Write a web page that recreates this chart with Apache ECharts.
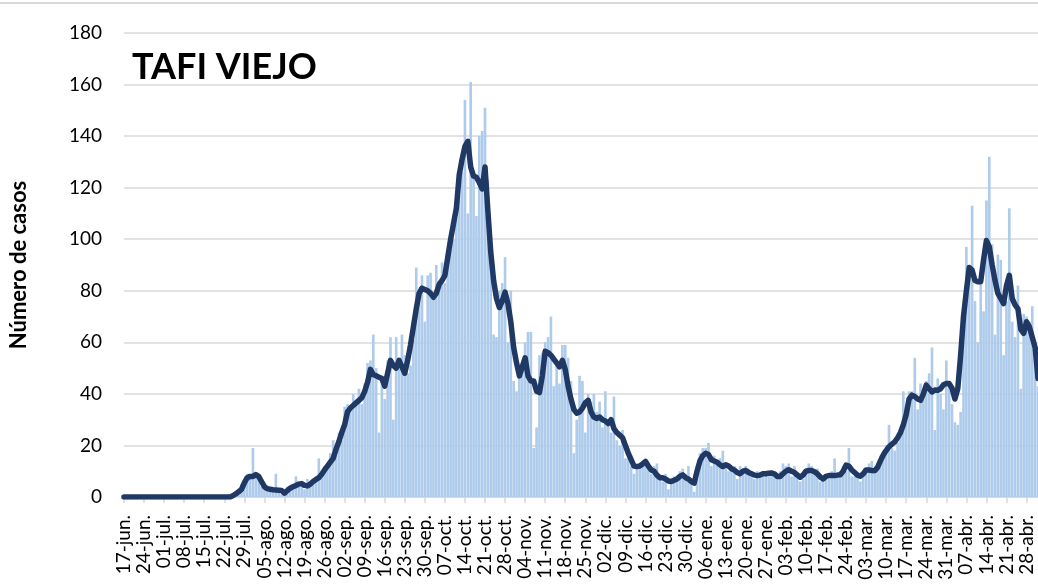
<!DOCTYPE html>
<html>
<head>
<meta charset="utf-8">
<title>TAFI VIEJO</title>
<script src="https://cdn.jsdelivr.net/npm/echarts@6/dist/echarts.min.js"></script>
<style>
html, body { margin: 0; padding: 0; background: #fff; }
#chart { width: 1038px; height: 585px; }
</style>
</head>
<body>
<div id="chart"></div>
<script>
// casos diarios desde 17-jun-2020 (una fila = una semana aprox.)
const casosDiarios = [
    0, 0, 0, 0, 0, 0, 0,
    0, 0, 0, 0, 0, 0, 0,
    0, 0, 0, 0, 0, 0, 0,
    0, 0, 0, 0, 0, 0, 0,
    0, 0, 0, 0, 0, 0, 0,
    0, 0, 0,
    1, 2, 1, 5, 7, 9, 8,
    19, 9, 8, 4, 3, 2, 3,
    2, 9, 3, 1, 2, 4, 3,
    4, 8, 6, 4, 3, 7, 6,
    5, 8, 15, 8, 12, 11, 17,
    22, 16, 25, 22, 35, 36, 33,
    40, 37, 42, 36, 44, 52, 53,
    63, 50, 25, 47, 38, 53, 62,
    30, 62, 50, 63, 55, 48, 51,
    61, 89, 80, 86, 68, 86, 87,
    78, 90, 82, 91, 83, 89, 96,
    100, 108, 117, 126, 154, 110, 161,
    125, 109, 140, 142, 151, 123, 93,
    63, 62, 80, 83, 93, 60, 80,
    45, 41, 47, 52, 60, 64, 64,
    19, 27, 55, 56, 60, 62, 70,
    43, 52, 44, 59, 59, 54, 45,
    17, 30, 47, 45, 25, 40, 37,
    40, 33, 37, 27, 41, 30, 25,
    39, 22, 20, 26, 15, 17, 12,
    9, 11, 12, 14, 13, 11, 9,
    12, 13, 8, 6, 9, 3, 5,
    8, 6, 10, 11, 9, 12, 6,
    2, 8, 17, 19, 19, 21, 12,
    16, 13, 15, 18, 13, 10, 11,
    12, 7, 12, 9, 12, 11, 8,
    7, 10, 9, 8, 10, 8, 10,
    9, 7, 10, 13, 12, 13, 8,
    12, 9, 6, 7, 10, 13, 12,
    10, 11, 6, 8, 9, 7, 10,
    15, 8, 9, 12, 10, 19, 8,
    8, 9, 6, 10, 11, 13, 14,
    9, 13, 16, 18, 20, 28, 19,
    18, 21, 26, 41, 33, 41, 41,
    54, 34, 44, 40, 45, 48, 58,
    26, 46, 40, 34, 53, 43, 36,
    29, 28, 33, 74, 97, 88, 113,
    76, 60, 85, 72, 115, 132, 98,
    63, 94, 92, 55, 76, 112, 68,
    62, 82, 42, 71, 70, 68, 74,
    58, 43
]

// promedio movil
const promedioMovil = [
    0, 0, 0, 0, 0, 0, 0,
    0, 0, 0, 0, 0, 0, 0,
    0, 0, 0, 0, 0, 0, 0,
    0, 0, 0, 0, 0, 0, 0,
    0, 0, 0, 0, 0, 0, 0,
    0, 0, 0,
    0.5, 1.2, 2, 3, 5.5, 7.5, 8,
    8, 8.7, 8, 6, 4, 3.2, 3,
    2.8, 2.7, 2.6, 2.5, 1.5, 2.5, 3.4,
    4, 4.5, 5, 5.2, 4.5, 4.3, 5,
    6, 6.8, 7.5, 8.8, 10.5, 12, 13.5,
    15, 18.5, 21.5, 25, 28, 33, 34.5,
    35.5, 36.5, 37.5, 38.5, 41, 44.5, 49.5,
    47.5, 47, 46.5, 46, 43, 48, 53,
    51, 50, 53, 50.5, 48, 53, 59,
    66, 73, 79, 81, 80.5, 80, 79,
    77.5, 79, 82.5, 84, 86, 93, 100,
    106, 112, 125, 131, 136, 138, 128,
    124.5, 124, 122, 119.5, 128, 111, 95,
    84, 77, 73.5, 76, 79.5, 75, 68,
    58, 52, 47, 50.5, 54, 47, 45,
    45, 41, 40.5, 47, 56.5, 56, 55,
    53.5, 52, 50.5, 53, 49.5, 43, 38,
    34, 32.5, 33, 34.5, 36.5, 37.5, 33,
    31, 30.5, 31, 30, 29.5, 28.5, 30,
    26.5, 25, 24, 23, 20, 17, 14.5,
    12, 11.8, 12, 12.8, 13.8, 12, 10.5,
    10, 8.5, 7.5, 7.5, 7, 6.2, 6,
    6.5, 7, 8, 8.6, 7.5, 7, 6,
    5.4, 10, 14, 16, 17, 16.5, 14.5,
    14, 13.5, 12.5, 11.8, 12.5, 12, 11,
    10.5, 9.5, 9, 10, 10.3, 9.5, 9,
    8.5, 8.3, 8.5, 9, 9, 9.2, 9.3,
    9, 8, 8, 9, 10, 10.6, 10,
    9.5, 8.5, 7.7, 8.5, 10, 10.3, 10.3,
    9.8, 9, 7.8, 7, 8, 8.3, 8.3,
    8.3, 8.5, 8.6, 10, 12.4, 12, 10.5,
    9.5, 8.5, 8.1, 9, 10.5, 10.5, 10.3,
    10.2, 11.5, 14, 16.3, 18, 19.5, 20.5,
    21.4, 23, 25, 28, 32, 38, 39.5,
    39, 38, 37.5, 40, 43.4, 42, 40.8,
    41.5, 41.4, 42, 43.5, 44, 44, 42.2,
    38, 42, 55, 70, 80, 89, 88,
    84, 83.5, 83.5, 92, 99.5, 97, 90,
    84, 79, 77, 75, 82, 86, 77,
    74.5, 73, 65, 63.5, 68, 66, 62,
    58, 46
]

const yTicks = [0, 20, 40, 60, 80, 100, 120, 140, 160, 180]
const meses = ['ene.', 'feb.', 'mar.', 'abr.', 'may.', 'jun.', 'jul.', 'ago.', 'sep.', 'oct.', 'nov.', 'dic.']

// etiquetas por dia: 17-jun., 18-jun., ...
let dias = []
for (let i = 0; i < casosDiarios.length; i++) {
    let d = new Date(2020, 5, 17 + i)
    let dd = d.getDate() < 10 ? '0' + d.getDate() : '' + d.getDate()
    dias.push(dd + '-' + meses[d.getMonth()])
}

const fuente = 'Lato, "Noto Sans", sans-serif'
let chart = echarts.init(document.getElementById('chart'))

let option = {
    animation: false,
    backgroundColor: '#fff',
    title: {
        text: 'TAFI VIEJO',
        left: 132,
        top: 49,
        padding: 0,
        textStyle: {
            fontFamily: fuente,
            fontWeight: 'bold',
            fontSize: 36,
            color: '#000'
        }
    },
    graphic: [{
        type: 'line',
        shape: { x1: 0, y1: 3, x2: 1038, y2: 3 },
        style: { stroke: '#d9d9d9', lineWidth: 2 }
    }],
    grid: {
        left: 124,
        right: 0,
        top: 33,
        bottom: 88
    },
    xAxis: {
        type: 'category',
        data: dias,
        boundaryGap: false,
        axisLine: {
            show: true,
            lineStyle: { color: '#d9d9d9', width: 1.5 }
        },
        axisTick: {
            show: true,
            interval: 6,
            length: 6,
            lineStyle: { color: '#d9d9d9', width: 1.5 }
        },
        axisLabel: {
            interval: 6,
            rotate: 90,
            margin: 18,
            fontFamily: fuente,
            fontSize: 19,
            color: '#000'
        },
        splitLine: { show: false }
    },
    yAxis: {
        type: 'value',
        min: yTicks[0],
        max: yTicks[yTicks.length - 1],
        interval: 20,
        name: 'Número de casos',
        nameLocation: 'middle',
        nameGap: 94,
        nameTextStyle: {
            fontFamily: fuente,
            fontWeight: 'bold',
            fontSize: 22,
            color: '#000'
        },
        axisLine: { show: false },
        axisTick: { show: false },
        axisLabel: {
            margin: 22,
            fontFamily: fuente,
            fontSize: 19,
            color: '#000'
        },
        splitLine: {
            lineStyle: { color: '#d9d9d9', width: 1.5 }
        }
    },
    series: [{
        name: 'Casos',
        type: 'bar',
        data: casosDiarios,
        barCategoryGap: '8%',
        itemStyle: {
            color: '#aecbeb'
        }
    }, {
        name: 'Promedio',
        type: 'line',
        data: promedioMovil,
        showSymbol: false,
        z: 5,
        lineStyle: {
            color: '#1f3864',
            width: 5.5,
            cap: 'round',
            join: 'round'
        }
    }]
}
chart.setOption(option)
</script>
</body>
</html>
